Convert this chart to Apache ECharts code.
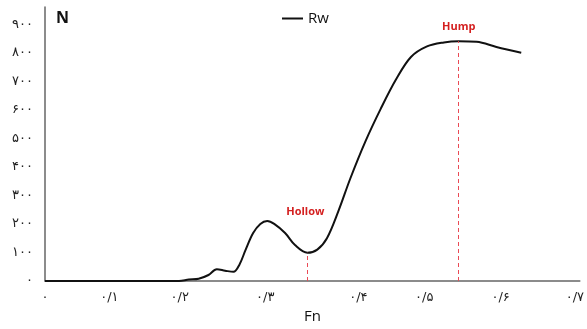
<!DOCTYPE html>
<html>
<head>
<meta charset="utf-8">
<script src="https://cdn.jsdelivr.net/npm/echarts@6/dist/echarts.min.js"></script>
<style>
  html, body { margin: 0; padding: 0; background: #fff; }
  #chart { width: 587px; height: 329px; }
</style>
</head>
<body>
<div id="chart"></div>
<script>
// Fn along the x axis (the source axis is hand-spaced, so ticks sit where the picture puts them)
const xTickValues = [0, 0.085, 0.178, 0.291, 0.414, 0.501, 0.602, 0.7]
const xTickLabels = ["۰", "۰/۱", "۰/۲", "۰/۳", "۰/۴", "۰/۵", "۰/۶", "۰/۷"]
const persianDigits = ["۰", "۱", "۲", "۳", "۴", "۵", "۶", "۷", "۸", "۹"]

// Rw curve
const fnValues = [0, 0.12, 0.177, 0.190, 0.203, 0.216, 0.227, 0.238, 0.249, 0.257, 0.265, 0.275, 0.2845,
  0.2936, 0.3028, 0.3172, 0.3303, 0.3466, 0.3597, 0.3725, 0.3875, 0.4035, 0.4235, 0.4435, 0.4635, 0.4835,
  0.5047, 0.527, 0.5466, 0.5702, 0.5964, 0.6292]
const rwValues = [0, 0, 0, 5, 8, 21, 41, 36, 32, 58, 109, 168, 200,
  210, 200, 168, 126, 99, 110, 150, 244, 360, 490, 603, 705, 785,
  822, 836, 840, 838, 820, 800]

// annotated points
const marks = [
  { name: "Hollow", fn: 0.3466, n: 99 },
  { name: "Hump", fn: 0.5466, n: 840 }
]

function toPersian(v) {
  return String(v).replace(/[0-9]/g, d => persianDigits[+d])
}

const myChart = echarts.init(document.getElementById("chart"))

const dashStyle = { color: "#ea4a55", width: 1, type: [4, 3], opacity: 1 }

const option = {
  animation: false,
  title: {
    text: "N",
    left: 51,
    top: 5,
    textStyle: { fontSize: 16, fontWeight: "bold", color: "#111", fontFamily: "Open Sans" }
  },
  legend: {
    data: ["Rw"],
    left: 277,
    top: 6,
    icon: "rect",
    itemWidth: 21,
    itemHeight: 2,
    itemGap: 6,
    textStyle: { fontSize: 15, color: "#111", fontFamily: "Open Sans" }
  },
  grid: {
    left: 45,
    right: 3,
    top: 7,
    bottom: 48
  },
  xAxis: {
    type: "value",
    min: 0,
    max: 0.7066,
    name: "Fn",
    nameLocation: "middle",
    nameGap: 28,
    nameTextStyle: { fontSize: 15, color: "#111", fontFamily: "Open Sans" },
    axisLine: { show: true, lineStyle: { color: "#666", width: 1.5 } },
    axisTick: { show: false },
    splitLine: { show: false },
    axisLabel: {
      customValues: xTickValues,
      margin: 10,
      fontSize: 13,
      color: "#222",
      fontFamily: "DejaVu Sans",
      formatter: function (v) {
        let best = 0
        xTickValues.forEach((t, i) => {
          if (Math.abs(t - v) < Math.abs(xTickValues[best] - v)) best = i
        })
        return xTickLabels[best]
      }
    }
  },
  yAxis: {
    type: "value",
    min: 0,
    max: 960,
    interval: 100,
    axisLine: { show: true, lineStyle: { color: "#666", width: 1.5 } },
    axisTick: { show: false },
    splitLine: { show: false },
    axisLabel: {
      showMaxLabel: false,
      margin: 12,
      fontSize: 13,
      color: "#222",
      fontFamily: "DejaVu Sans",
      formatter: function (v) {
        return toPersian(v)
      }
    }
  },
  series: [
    {
      name: "Rw",
      type: "line",
      smooth: 0.35,
      showSymbol: false,
      symbol: "none",
      z: 3,
      lineStyle: { color: "#111", width: 2 },
      itemStyle: { color: "#111" },
      data: fnValues.map((x, i) => [x, rwValues[i]]),
      markLine: {
        silent: true,
        symbol: "none",
        label: { show: false },
        lineStyle: dashStyle,
        emphasis: { disabled: true },
        data: marks.map(m => [
          { coord: [m.fn, 0], lineStyle: dashStyle },
          { coord: [m.fn, m.n] }
        ])
      },
      markPoint: {
        silent: true,
        symbol: "circle",
        symbolSize: 0,
        data: marks.map(m => ({
          coord: [m.fn, m.n],
          label: {
            show: true,
            formatter: m.name,
            position: "inside",
            offset: m.name === "Hollow" ? [-2, -41] : [0, -14],
            color: "#d42020",
            fontSize: 11,
            fontWeight: "bold",
            fontFamily: "Open Sans"
          }
        }))
      }
    }
  ]
}
myChart.setOption(option, true)
</script>
</body>
</html>
